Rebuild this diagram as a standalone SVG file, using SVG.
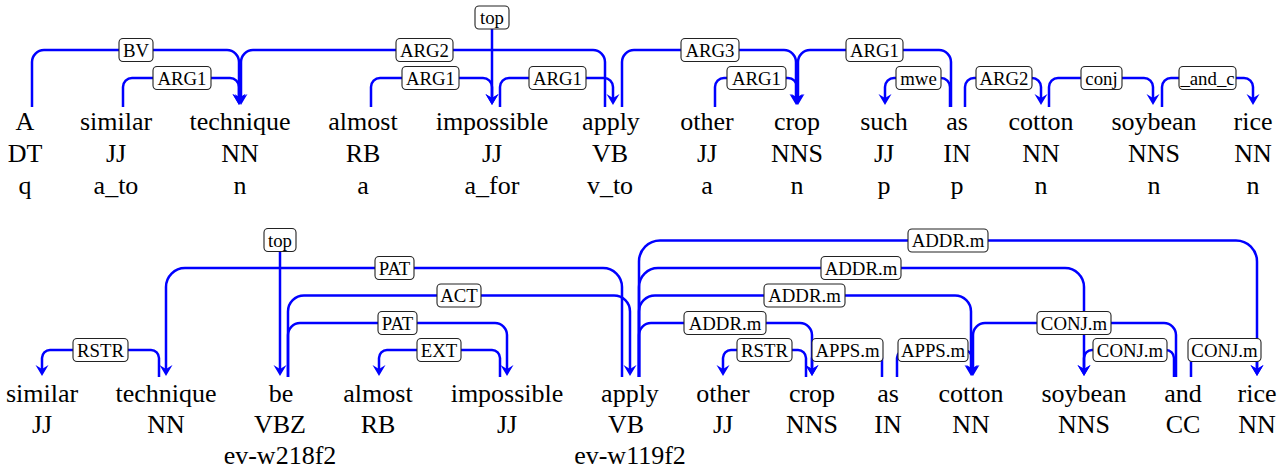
<svg xmlns="http://www.w3.org/2000/svg" width="1285" height="472" viewBox="0 0 1285 472">
  <style>
    .w { font-family: "Liberation Serif", "Times New Roman", serif; font-size: 26px; fill: #000; text-anchor: middle; }
    .lb { font-family: "Liberation Serif", "Times New Roman", serif; font-size: 18.8px; fill: #000; text-anchor: middle; }
    .box { fill: #fff; stroke: #222; stroke-width: 1.1; }
    .e { fill: none; stroke: #0000ff; stroke-width: 2.5; }
    .arr { marker-end: url(#head); }
  </style>
  <defs>
    <marker id="head" markerUnits="userSpaceOnUse" viewBox="-10 -10 20 20" markerWidth="20" markerHeight="20" refX="0" refY="0" orient="auto" overflow="visible">
      <path d="M5,0 L-6,-6.5 L-2,0 L-6,6.5 Z" fill="#0000ff"/>
    </marker>
  </defs>
  <rect width="1285" height="472" fill="#fff"/>

  <!-- upper sentence: word / POS / lemma class -->
  <g id="t-A"><text class="w" x="25" y="130">A</text><text class="w" x="25" y="162">DT</text><text class="w" x="25" y="194">q</text></g>
  <g id="t-similar"><text class="w" x="116" y="130">similar</text><text class="w" x="116" y="162">JJ</text><text class="w" x="116" y="194">a_to</text></g>
  <g id="t-technique"><text class="w" x="240" y="130">technique</text><text class="w" x="240" y="162">NN</text><text class="w" x="240" y="194">n</text></g>
  <g id="t-almost"><text class="w" x="363" y="130">almost</text><text class="w" x="363" y="162">RB</text><text class="w" x="363" y="194">a</text></g>
  <g id="t-impossible"><text class="w" x="492" y="130">impossible</text><text class="w" x="492" y="162">JJ</text><text class="w" x="492" y="194">a_for</text></g>
  <g id="t-apply"><text class="w" x="611" y="130">apply</text><text class="w" x="610" y="162">VB</text><text class="w" x="610" y="194">v_to</text></g>
  <g id="t-other"><text class="w" x="707" y="130">other</text><text class="w" x="707" y="162">JJ</text><text class="w" x="707" y="194">a</text></g>
  <g id="t-crop"><text class="w" x="797" y="130">crop</text><text class="w" x="797" y="162">NNS</text><text class="w" x="797" y="194">n</text></g>
  <g id="t-such"><text class="w" x="884" y="130">such</text><text class="w" x="884" y="162">JJ</text><text class="w" x="884" y="194">p</text></g>
  <g id="t-as"><text class="w" x="957" y="130">as</text><text class="w" x="957" y="162">IN</text><text class="w" x="957" y="194">p</text></g>
  <g id="t-cotton"><text class="w" x="1041" y="130">cotton</text><text class="w" x="1041" y="162">NN</text><text class="w" x="1041" y="194">n</text></g>
  <g id="t-soybean"><text class="w" x="1154" y="130">soybean</text><text class="w" x="1154" y="162">NNS</text><text class="w" x="1154" y="194">n</text></g>
  <g id="t-rice"><text class="w" x="1253" y="130">rice</text><text class="w" x="1253" y="162">NN</text><text class="w" x="1253" y="194">n</text></g>

  <!-- lower sentence: word / POS / frame id -->
  <g id="b-similar"><text class="w" x="42" y="402">similar</text><text class="w" x="42" y="433">JJ</text></g>
  <g id="b-technique"><text class="w" x="166" y="402">technique</text><text class="w" x="166" y="433">NN</text></g>
  <g id="b-be"><text class="w" x="281" y="402">be</text><text class="w" x="280" y="433">VBZ</text><text class="w" x="280" y="464">ev-w218f2</text></g>
  <g id="b-almost"><text class="w" x="378" y="402">almost</text><text class="w" x="378" y="433">RB</text></g>
  <g id="b-impossible"><text class="w" x="507" y="402">impossible</text><text class="w" x="507" y="433">JJ</text></g>
  <g id="b-apply"><text class="w" x="630" y="402">apply</text><text class="w" x="626" y="433">VB</text><text class="w" x="630" y="464">ev-w119f2</text></g>
  <g id="b-other"><text class="w" x="723" y="402">other</text><text class="w" x="723" y="433">JJ</text></g>
  <g id="b-crop"><text class="w" x="812" y="402">crop</text><text class="w" x="812" y="433">NNS</text></g>
  <g id="b-as"><text class="w" x="888" y="402">as</text><text class="w" x="888" y="433">IN</text></g>
  <g id="b-cotton"><text class="w" x="971" y="402">cotton</text><text class="w" x="971" y="433">NN</text></g>
  <g id="b-soybean"><text class="w" x="1084" y="402">soybean</text><text class="w" x="1084" y="433">NNS</text></g>
  <g id="b-and"><text class="w" x="1183" y="402">and</text><text class="w" x="1183" y="433">CC</text></g>
  <g id="b-rice"><text class="w" x="1257" y="402">rice</text><text class="w" x="1257" y="433">NN</text></g>

  <!-- dependency arcs -->
  <g id="connectors">
    <!-- upper -->
    <path class="e arr" d="M32,107 V62 A12,12 0 0 1 44,50 H227 A12,12 0 0 1 239,62 V100"/>
    <path class="e arr" d="M123,107 V87 A9,9 0 0 1 132,78 H230 A9,9 0 0 1 239,87 V100"/>
    <path class="e arr" d="M605,107 V62 A12,12 0 0 0 593,50 H253 A12,12 0 0 0 241,62 V100"/>
    <path class="e arr" d="M371,107 V87 A9,9 0 0 1 380,78 H483 A9,9 0 0 1 492,87 V100"/>
    <path class="e arr" d="M492,29 V100"/>
    <path class="e arr" d="M500,107 V87 A9,9 0 0 1 509,78 H604 A9,9 0 0 1 613,87 V100"/>
    <path class="e arr" d="M622,107 V62 A12,12 0 0 1 634,50 H784 A12,12 0 0 1 796,62 V100"/>
    <path class="e arr" d="M715,107 V87 A9,9 0 0 1 724,78 H788 A9,9 0 0 1 797,87 V100"/>
    <path class="e arr" d="M951,107 V62 A12,12 0 0 0 939,50 H810 A12,12 0 0 0 798,62 V100"/>
    <path class="e arr" d="M950,107 V87 A9,9 0 0 0 941,78 H894 A9,9 0 0 0 885,87 V100"/>
    <path class="e arr" d="M965,107 V87 A9,9 0 0 1 974,78 H1032 A9,9 0 0 1 1041,87 V100"/>
    <path class="e arr" d="M1049,107 V87 A9,9 0 0 1 1058,78 H1144 A9,9 0 0 1 1153,87 V100"/>
    <path class="e arr" d="M1162,107 V87 A9,9 0 0 1 1171,78 H1244 A9,9 0 0 1 1253,87 V100"/>
    <!-- lower -->
    <path class="e arr" d="M159,377 V358 A8,8 0 0 0 151,350 H50 A8,8 0 0 0 42,358 V371"/>
    <path class="e arr" d="M622,377 V287 A19,19 0 0 0 603,268 H185 A19,19 0 0 0 166,287 V371"/>
    <path class="e arr" d="M280,252 V371"/>
    <path class="e arr" d="M288,377 V311.5 A16,16 0 0 1 304,295.5 H614 A16,16 0 0 1 630,311.5 V371"/>
    <path class="e arr" d="M288,377 V335 A12,12 0 0 1 300,323 H495 A12,12 0 0 1 507,335 V371"/>
    <path class="e arr" d="M500,377 V358 A8,8 0 0 0 492,350 H387 A8,8 0 0 0 379,358 V371"/>
    <path class="e arr" d="M639,377 V335 A12,12 0 0 1 651,323 H800 A12,12 0 0 1 812,335 V371"/>
    <path class="e arr" d="M639,377 V311.5 A16,16 0 0 1 655,295.5 H955 A16,16 0 0 1 971,311.5 V371"/>
    <path class="e arr" d="M639,377 V287 A19,19 0 0 1 658,268 H1065 A19,19 0 0 1 1084,287 V371"/>
    <path class="e arr" d="M639,377 V261.5 A21,21 0 0 1 660,240.5 H1236 A21,21 0 0 1 1257,261.5 V371"/>
    <path class="e arr" d="M806,377 V358 A8,8 0 0 0 798,350 H731 A8,8 0 0 0 723,358 V371"/>
    <path class="e arr" d="M882,377 V358 A8,8 0 0 0 874,350 H820 A8,8 0 0 0 812,358 V371"/>
    <path class="e arr" d="M897,377 V358 A8,8 0 0 1 905,350 H964 A8,8 0 0 1 972,358 V371"/>
    <path class="e arr" d="M1176,377 V335 A12,12 0 0 0 1164,323 H985 A12,12 0 0 0 973,335 V371"/>
    <path class="e arr" d="M1174,377 V358 A8,8 0 0 0 1166,350 H1092 A8,8 0 0 0 1084,358 V371"/>
    <path class="e arr" d="M1191,377 V358 A8,8 0 0 1 1199,350 H1249 A8,8 0 0 1 1257,358 V371"/>
  </g>

  <!-- arc labels -->
  <g id="edge-labels">
    <rect class="box" x="119" y="38.5" width="34" height="23" rx="4"/><text class="lb" x="136" y="56.5">BV</text>
    <rect class="box" x="153" y="66.5" width="58" height="23" rx="4"/><text class="lb" x="182" y="84.5">ARG1</text>
    <rect class="box" x="396" y="38.5" width="57" height="23" rx="4"/><text class="lb" x="424.5" y="56.5">ARG2</text>
    <rect class="box" x="402" y="66.5" width="57" height="23" rx="4"/><text class="lb" x="430.5" y="84.5">ARG1</text>
    <rect class="box" x="475" y="6" width="34" height="23" rx="4"/><text class="lb" x="492" y="24">top</text>
    <rect class="box" x="529" y="66.5" width="57" height="23" rx="4"/><text class="lb" x="557.5" y="84.5">ARG1</text>
    <rect class="box" x="681" y="38.5" width="58" height="23" rx="4"/><text class="lb" x="710" y="56.5">ARG3</text>
    <rect class="box" x="727" y="66.5" width="59" height="23" rx="4"/><text class="lb" x="756.5" y="84.5">ARG1</text>
    <rect class="box" x="846" y="38.5" width="57" height="23" rx="4"/><text class="lb" x="874.5" y="56.5">ARG1</text>
    <rect class="box" x="896" y="66.5" width="45" height="23" rx="4"/><text class="lb" x="918.5" y="84.5">mwe</text>
    <rect class="box" x="976" y="66.5" width="56" height="23" rx="4"/><text class="lb" x="1004" y="84.5">ARG2</text>
    <rect class="box" x="1081" y="66.5" width="41" height="23" rx="4"/><text class="lb" x="1101.5" y="84.5">conj</text>
    <rect class="box" x="1179" y="66.5" width="57" height="23" rx="4"/><text class="lb" x="1207.5" y="84.5">_and_c</text>

    <rect class="box" x="73" y="338.5" width="55" height="23" rx="4"/><text class="lb" x="100.5" y="356.5">RSTR</text>
    <rect class="box" x="375" y="256.5" width="39" height="23" rx="4"/><text class="lb" x="394.5" y="274.5">PAT</text>
    <rect class="box" x="264" y="228.5" width="32" height="23" rx="4"/><text class="lb" x="280" y="246.5">top</text>
    <rect class="box" x="437" y="284" width="44" height="23" rx="4"/><text class="lb" x="459" y="302">ACT</text>
    <rect class="box" x="378" y="311.5" width="39" height="23" rx="4"/><text class="lb" x="397.5" y="329.5">PAT</text>
    <rect class="box" x="417" y="338.5" width="44" height="23" rx="4"/><text class="lb" x="439" y="356.5">EXT</text>
    <rect class="box" x="684" y="311.5" width="82" height="23" rx="4"/><text class="lb" x="725" y="329.5">ADDR.m</text>
    <rect class="box" x="764" y="284" width="81" height="23" rx="4"/><text class="lb" x="804.5" y="302">ADDR.m</text>
    <rect class="box" x="821" y="256.5" width="80" height="23" rx="4"/><text class="lb" x="861" y="274.5">ADDR.m</text>
    <rect class="box" x="908" y="229" width="80" height="23" rx="4"/><text class="lb" x="948" y="247">ADDR.m</text>
    <rect class="box" x="737" y="338.5" width="55" height="23" rx="4"/><text class="lb" x="764.5" y="356.5">RSTR</text>
    <rect class="box" x="812" y="338.5" width="71" height="23" rx="4"/><text class="lb" x="847.5" y="356.5">APPS.m</text>
    <rect class="box" x="898" y="338.5" width="70" height="23" rx="4"/><text class="lb" x="933" y="356.5">APPS.m</text>
    <rect class="box" x="1037" y="311.5" width="74" height="23" rx="4"/><text class="lb" x="1074" y="329.5">CONJ.m</text>
    <rect class="box" x="1093" y="338.5" width="74" height="23" rx="4"/><text class="lb" x="1130" y="356.5">CONJ.m</text>
    <rect class="box" x="1188" y="338.5" width="73" height="23" rx="4"/><text class="lb" x="1224.5" y="356.5">CONJ.m</text>
  </g>
</svg>
